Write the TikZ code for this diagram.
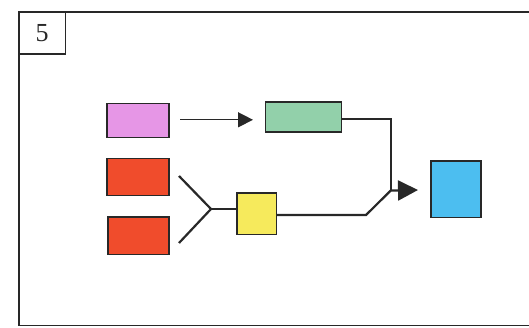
\documentclass[tikz,border=0pt]{standalone}
\usepackage{fontspec}
\setmainfont{Liberation Serif}
\usetikzlibrary{arrows.meta}
\definecolor{boxpink}{RGB}{230,150,230}
\definecolor{boxred}{RGB}{240,76,44}
\definecolor{boxgreen}{RGB}{146,208,170}
\definecolor{boxyellow}{RGB}{246,234,92}
\definecolor{boxblue}{RGB}{76,190,240}
\definecolor{ink}{RGB}{40,40,40}
\tikzset{
  blk/.style={draw=ink, line width=1.8pt, inner sep=0pt, outer sep=0pt, anchor=north west},
  wire/.style={draw=ink, line width=2.2pt, line join=miter},
  bigarrow/.style={wire, -{Triangle[length=20pt,width=20pt]}},
  thinarrow/.style={draw=ink, line width=1.4pt, -{Triangle[length=15pt,width=15pt]}}
}
\begin{document}
\begin{tikzpicture}[x=1pt,y=-1pt]
\useasboundingbox (0,0) rectangle (529,328);
\fill[white] (0,0) rectangle (529,328);
% panel frame and its number tab
\begin{scope}
\clip (0,0) rectangle (529,328);
\draw[ink, line width=2pt] (18.5,325.5) -- (18.5,12) -- (540,12);
\draw[ink, line width=1.8pt] (18.5,325.5) -- (540,325.5);
\end{scope}
\node[blk, fill=none, minimum width=47pt, minimum height=42pt] (tab) at (18.5,12) {};
\node[font=\fontsize{26}{26}\selectfont, text=ink] (num) at (tab.center) {5};
% blocks
\node[blk, fill=boxpink, minimum width=62pt, minimum height=34pt] (pink) at (107,103.5) {};
\node[blk, fill=boxred, minimum width=62pt, minimum height=37pt] (redA) at (107,158.5) {};
\node[blk, fill=boxred, minimum width=61pt, minimum height=37.5pt] (redB) at (108,217) {};
\node[blk, fill=boxgreen, minimum width=76pt, minimum height=30pt] (green) at (265.5,102) {};
\node[blk, fill=boxyellow, minimum width=39.5pt, minimum height=41.5pt] (yellow) at (237,193) {};
\node[blk, fill=boxblue, minimum width=50pt, minimum height=56.5pt] (blue) at (431,161) {};
% connector points
\coordinate (aStart) at (180,119.8);
\coordinate (aEnd) at (253,119.8);
\coordinate (forkA) at (179,176);
\coordinate (forkB) at (179,243);
\coordinate (fork) at (211,209);
\coordinate (bend) at (366,215);
\coordinate (merge) at (390.7,190.6);
\coordinate (corner) at (390.7,118.8);
\coordinate (head) at (418,190);
% connectors
\draw[thinarrow] (aStart) -- (aEnd);
\draw[wire] (forkA) -- (fork) -- (forkB);
\draw[wire] (fork) -- (fork -| yellow.west);
\draw[wire] (yellow.east |- bend) -- (bend) -- (merge);
\draw[wire] (green.east |- corner) -- (corner) -- (merge);
\draw[bigarrow] (merge) -- (head);
\end{tikzpicture}
\end{document}
